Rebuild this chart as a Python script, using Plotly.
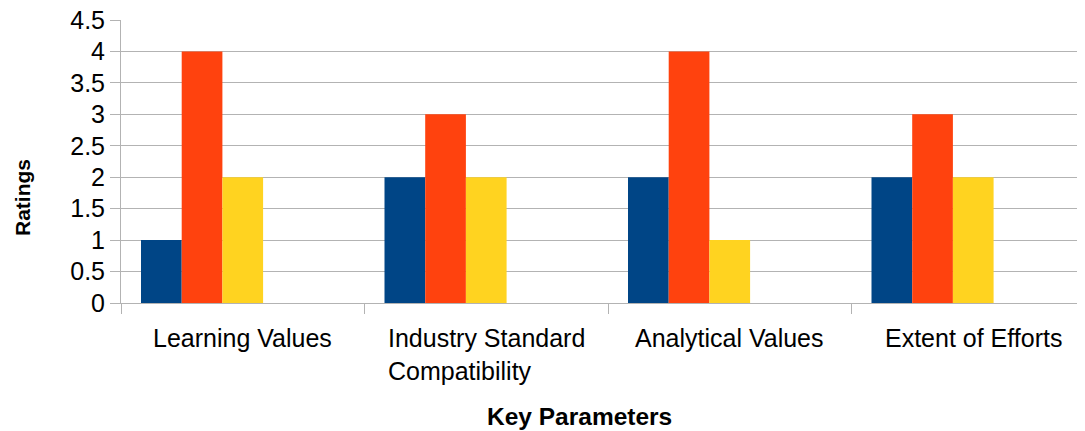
import plotly.graph_objects as go

categories = ["Learning Values", "Industry Standard<br>Compatibility", "Analytical Values", "Extent of Efforts"]
series_1 = [1, 2, 2, 2]
series_2 = [4, 3, 4, 3]
series_3 = [2, 2, 1, 2]
series_4 = [None, None, None, None]
series_5 = [None, None, None, None]
y_ticks = [0, 0.5, 1, 1.5, 2, 2.5, 3, 3.5, 4, 4.5]
y_tick_labels = ["0", "0.5", "1", "1.5", "2", "2.5", "3", "3.5", "4", "4.5"]

colors = ["#004586", "#ff420e", "#ffd320", "#579d1c", "#7e0021"]
FONT = "Liberation Sans"

fig = go.Figure()
for vals, col in zip([series_1, series_2, series_3, series_4, series_5], colors):
    fig.add_trace(go.Bar(x=categories, y=vals, marker=dict(color=col, line=dict(width=0)),
                         showlegend=False))

# page has an 8px body margin: figure coords = page coords - 8
OFF = 8
W, H = 1085, 431
plot_left, plot_top, plot_bottom, plot_right = 121, 20, 303, 1085
L = plot_left - OFF
T = plot_top - OFF
B = H - (plot_bottom - OFF)
R = W - (plot_right - OFF)
plot_w = plot_right - plot_left
plot_h = plot_bottom - plot_top
cat_w = 243.5

fig.update_layout(
    width=W, height=H,
    margin=dict(l=L, r=R, t=T, b=B, autoexpand=False),
    barmode="group", bargap=40 / cat_w, bargroupgap=0,
    plot_bgcolor="white", paper_bgcolor="white",
    font=dict(family=FONT, size=25, color="black"),
    xaxis=dict(
        type="category", range=[-0.5, -0.5 + plot_w / cat_w],
        showticklabels=False, ticks="outside", tickson="boundaries",
        ticklen=10, tickcolor="#b3b3b3", tickwidth=1,
        showline=True, linecolor="#b3b3b3", linewidth=1,
        showgrid=False, zeroline=False,
    ),
    yaxis=dict(
        range=[0, 4.5], tickvals=y_ticks, ticktext=y_tick_labels,
        ticks="outside", ticklen=10, tickcolor="#b3b3b3", tickwidth=1,
        showline=True, linecolor="#b3b3b3", linewidth=1,
        showgrid=True, gridcolor="#b3b3b3", gridwidth=1, zeroline=False,
        ticklabeloverflow="allow",
        tickfont=dict(family=FONT, size=25, color="black"),
    ),
)

for c in categories:
    fig.add_annotation(x=c, xref="x", y=0, yref="paper", yanchor="top", yshift=-19,
                       text=c, showarrow=False, align="left",
                       font=dict(family=FONT, size=25, color="black"))

fig.add_annotation(text="<b>Ratings</b>", textangle=-90, xref="paper", yref="paper",
                   x=0, xanchor="center", xshift=22 - plot_left,
                   y=(plot_bottom - 198) / plot_h, yanchor="middle", showarrow=False,
                   font=dict(family=FONT, size=21, color="black"))
fig.add_annotation(text="<b>Key Parameters</b>", xref="paper", yref="paper",
                   x=(579.5 - plot_left) / plot_w, xanchor="center",
                   y=(plot_bottom - 416) / plot_h, yanchor="middle", showarrow=False,
                   font=dict(family=FONT, size=24.5, color="black"))

fig.write_html("out.html")
